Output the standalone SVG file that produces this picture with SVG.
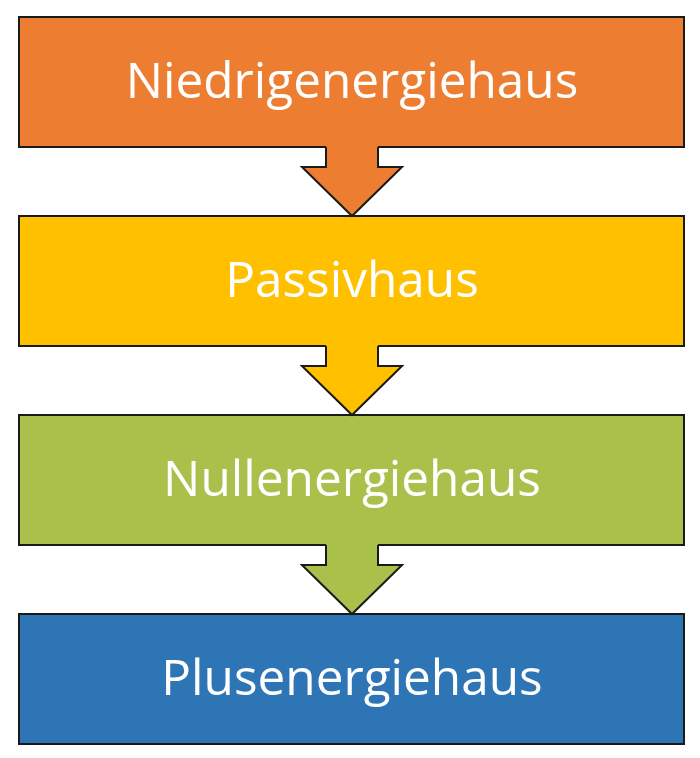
<svg xmlns="http://www.w3.org/2000/svg" width="700" height="758" viewBox="0 0 700 758">
<style>
.box{stroke:#1a1a1a;stroke-width:2}
.lbl{font-family:"Open Sans","Noto Sans",sans-serif;font-size:49.5px;fill:#ffffff;text-anchor:middle}
.arr{stroke:#1a1a1a;stroke-width:2;stroke-linejoin:miter}
</style>
<rect width="700" height="758" fill="#ffffff"/>
<g id="n1"><rect class="box" x="19" y="17" width="665" height="130" fill="#ED7D31"/><text class="lbl" x="352" y="98">Niedrigenergiehaus</text></g>
<g id="n2"><rect class="box" x="19" y="216" width="665" height="130" fill="#FFC000"/><text class="lbl" x="352" y="297">Passivhaus</text></g>
<g id="n3"><rect class="box" x="19" y="415" width="665" height="130" fill="#A9C04A"/><text class="lbl" x="352" y="496">Nullenergiehaus</text></g>
<g id="n4"><rect class="box" x="19" y="614" width="665" height="130" fill="#2E75B6"/><text class="lbl" x="352" y="695">Plusenergiehaus</text></g>
<g id="connectors">
<g id="a1"><polygon points="326,145 326,167 302,167 352,216 402,167 378,167 378,145" fill="#ED7D31"/><polyline class="arr" fill="none" points="326,147 326,167 302,167 352,216 402,167 378,167 378,147"/></g>
<g id="a2"><polygon points="326,344 326,366 302,366 352,415 402,366 378,366 378,344" fill="#FFC000"/><polyline class="arr" fill="none" points="326,346 326,366 302,366 352,415 402,366 378,366 378,346"/></g>
<g id="a3"><polygon points="326,543 326,565 302,565 352,614 402,565 378,565 378,543" fill="#A9C04A"/><polyline class="arr" fill="none" points="326,545 326,565 302,565 352,614 402,565 378,565 378,545"/></g>
</g>
</svg>
